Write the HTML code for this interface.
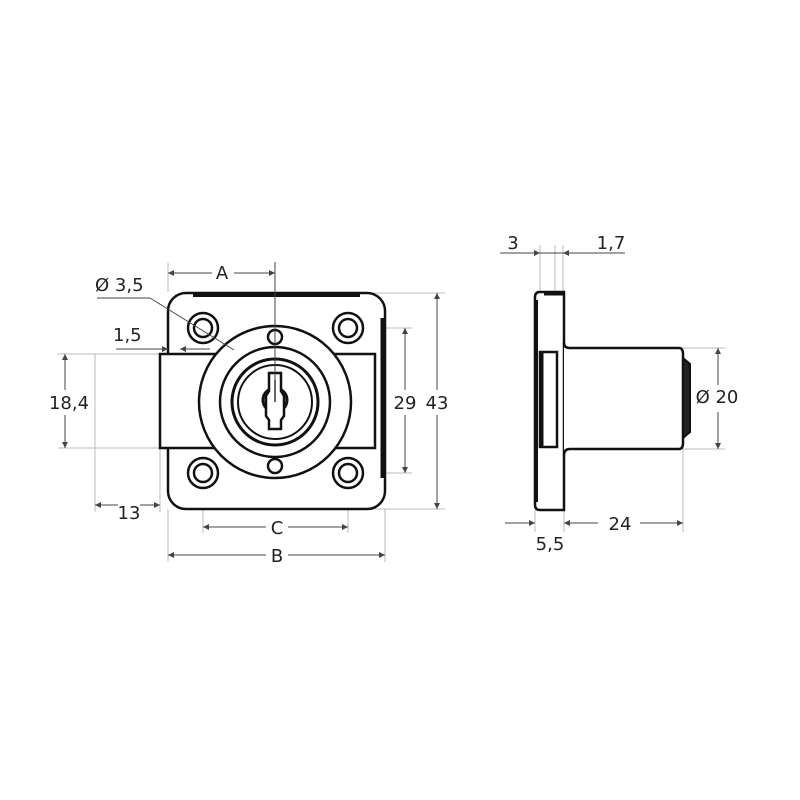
<!DOCTYPE html>
<html><head><style>
html,body{margin:0;padding:0;background:#fff;}
svg{display:block;}
text{font-family:"DejaVu Sans","Liberation Sans",sans-serif;font-size:18px;fill:#222;}
</style></head><body>
<svg width="800" height="800" viewBox="0 0 800 800" xmlns="http://www.w3.org/2000/svg">
<defs>
<marker id="ar" viewBox="0 0 10 10" refX="10" refY="5" markerWidth="9" markerHeight="6" orient="auto-start-reverse" markerUnits="userSpaceOnUse"><path d="M0,0 L10,5 L0,10 z" fill="#444"/></marker>
</defs>
<rect width="800" height="800" fill="#fff"/>

<!-- extension lines (light) -->
<g stroke="#bbb" stroke-width="1" fill="none">
<line x1="168" y1="262" x2="168" y2="292"/>
<line x1="360" y1="293" x2="445" y2="293"/>
<line x1="360" y1="509" x2="445" y2="509"/>
<line x1="348" y1="328" x2="412" y2="328"/>
<line x1="348" y1="473" x2="412" y2="473"/>
<line x1="58" y1="354" x2="160" y2="354" stroke-dasharray="none"/>
<line x1="58" y1="448" x2="160" y2="448"/>
<line x1="95" y1="354" x2="95" y2="512"/>
<line x1="160" y1="448" x2="160" y2="512"/>
<line x1="168" y1="509" x2="168" y2="562"/>
<line x1="385" y1="509" x2="385" y2="562"/>
<line x1="203" y1="473" x2="203" y2="533"/>
<line x1="348" y1="473" x2="348" y2="533"/>
<line x1="540" y1="245" x2="540" y2="292"/>
<line x1="555" y1="245" x2="555" y2="292"/>
<line x1="563" y1="245" x2="563" y2="292"/>
<line x1="535" y1="510" x2="535" y2="532"/>
<line x1="564" y1="510" x2="564" y2="532"/>
<line x1="683" y1="449" x2="683" y2="532"/>
<line x1="683" y1="348" x2="725" y2="348"/>
<line x1="683" y1="449" x2="725" y2="449"/>
</g>

<!-- front view -->
<g stroke="#111" fill="#fff">
<path d="M186,293 H367 A18,18 0 0 1 385,311 V491 A18,18 0 0 1 367,509 H186 A18,18 0 0 1 168,491 V311 A18,18 0 0 1 186,293 Z" stroke-width="2.5"/>
<line x1="193" y1="294.5" x2="360" y2="294.5" stroke-width="5"/>
<line x1="383" y1="318" x2="383" y2="478" stroke-width="5"/>
<rect x="160" y="354" width="215" height="94" stroke-width="2.5"/>
<circle cx="275" cy="402" r="76" stroke-width="2.5"/>
<circle cx="275" cy="402" r="55" stroke-width="2.5"/>
<circle cx="275" cy="402" r="43" stroke-width="3"/>
<circle cx="275" cy="402" r="37" stroke-width="2"/>
<g stroke-width="2.5">
<circle cx="203" cy="328" r="15"/><circle cx="203" cy="328" r="9"/>
<circle cx="348" cy="328" r="15"/><circle cx="348" cy="328" r="9"/>
<circle cx="203" cy="473" r="15"/><circle cx="203" cy="473" r="9"/>
<circle cx="348" cy="473" r="15"/><circle cx="348" cy="473" r="9"/>
<circle cx="275" cy="337" r="7"/>
<circle cx="275" cy="466" r="7"/>
</g>
<circle cx="275" cy="400" r="12" stroke-width="3"/>
<path d="M269,373 H281 V391 L284,396 V416 L281,420 V429 H269 V420 L266,416 V396 L269,391 Z" stroke-width="2.5"/>
<line x1="275" y1="380" x2="275" y2="402" stroke-width="1.5"/>
</g>

<!-- dimension lines front -->
<g stroke="#444" stroke-width="1" fill="none">
<line x1="275" y1="262" x2="275" y2="402"/>
<line x1="168" y1="273" x2="212" y2="273" marker-start="url(#ar)"/>
<line x1="234" y1="273" x2="275" y2="273" marker-end="url(#ar)"/>
<line x1="168" y1="555" x2="266" y2="555" marker-start="url(#ar)"/>
<line x1="288" y1="555" x2="385" y2="555" marker-end="url(#ar)"/>
<line x1="203" y1="527" x2="266" y2="527" marker-start="url(#ar)"/>
<line x1="288" y1="527" x2="348" y2="527" marker-end="url(#ar)"/>
<line x1="405" y1="328" x2="405" y2="390" marker-start="url(#ar)"/>
<line x1="405" y1="415" x2="405" y2="473" marker-end="url(#ar)"/>
<line x1="437" y1="293" x2="437" y2="390" marker-start="url(#ar)"/>
<line x1="437" y1="415" x2="437" y2="509" marker-end="url(#ar)"/>
<line x1="65" y1="354" x2="65" y2="390" marker-start="url(#ar)"/>
<line x1="65" y1="415" x2="65" y2="448" marker-end="url(#ar)"/>
<line x1="95" y1="505" x2="118" y2="505" marker-start="url(#ar)"/>
<line x1="140" y1="505" x2="160" y2="505" marker-end="url(#ar)"/>
<line x1="97" y1="298" x2="150" y2="298"/>
<line x1="150" y1="298" x2="234" y2="350"/>
<line x1="116" y1="349" x2="168" y2="349" marker-end="url(#ar)"/>
<line x1="210" y1="349" x2="180" y2="349" marker-end="url(#ar)"/>
</g>
<text x="222" y="279" text-anchor="middle">A</text>
<text x="277" y="562" text-anchor="middle">B</text>
<text x="277" y="534" text-anchor="middle">C</text>
<text x="405" y="409" text-anchor="middle">29</text>
<text x="437" y="409" text-anchor="middle">43</text>
<text x="69" y="409" text-anchor="middle">18,4</text>
<text x="129" y="519" text-anchor="middle">13</text>
<text x="95" y="291">Ø 3,5</text>
<text x="113" y="341">1,5</text>

<!-- side view -->
<g stroke="#111" fill="#fff">
<path d="M540,292 H564 V510 H540 Q535,510 535,505 V297 Q535,292 540,292 Z" stroke-width="2.5"/>
<line x1="544" y1="293.5" x2="564" y2="293.5" stroke-width="4"/>
<line x1="536.5" y1="300" x2="536.5" y2="502" stroke-width="3"/>
<rect x="540" y="352" width="17" height="95" stroke-width="2.5"/>
<line x1="541.5" y1="353" x2="541.5" y2="446" stroke-width="4"/>
<path d="M564,343 Q564,348 570,348 H679 Q683,348 683,354 V443 Q683,449 679,449 H570 Q564,449 564,455" stroke-width="2.5"/>
<path d="M683,358 L690,364 V432 L683,438 Z" fill="#222" stroke-width="2"/>
</g>
<g stroke="#444" stroke-width="1" fill="none">
<line x1="500" y1="253" x2="540" y2="253" marker-end="url(#ar)"/>
<line x1="540" y1="253" x2="563" y2="253"/>
<line x1="625" y1="253" x2="563" y2="253" marker-end="url(#ar)"/>
<line x1="505" y1="523" x2="535" y2="523" marker-end="url(#ar)"/>
<line x1="564" y1="523" x2="598" y2="523" marker-start="url(#ar)"/>
<line x1="640" y1="523" x2="683" y2="523" marker-end="url(#ar)"/>
<line x1="718" y1="348" x2="718" y2="385" marker-start="url(#ar)"/>
<line x1="718" y1="412" x2="718" y2="449" marker-end="url(#ar)"/>
</g>
<text x="513" y="249" text-anchor="middle">3</text>
<text x="611" y="249" text-anchor="middle">1,7</text>
<text x="550" y="550" text-anchor="middle">5,5</text>
<text x="620" y="530" text-anchor="middle">24</text>
<text x="717" y="403" text-anchor="middle">Ø 20</text>
</svg>
</body></html>
